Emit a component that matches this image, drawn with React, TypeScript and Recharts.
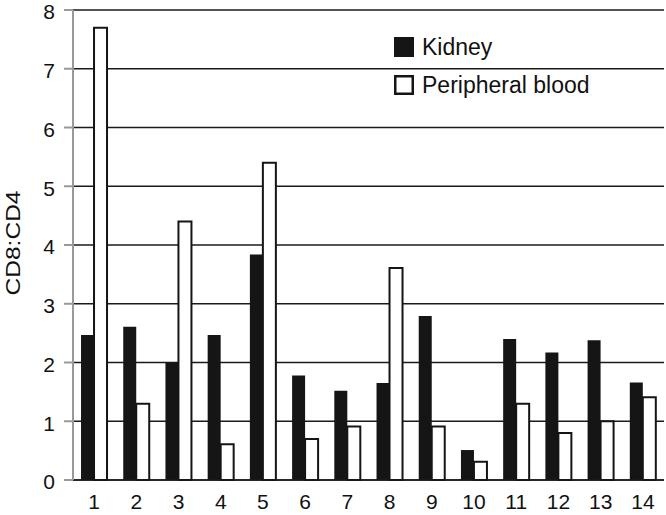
import React from 'react';
import { BarChart, Bar, XAxis, YAxis, CartesianGrid, Legend } from 'recharts';

const categories = ['1', '2', '3', '4', '5', '6', '7', '8', '9', '10', '11', '12', '13', '14'];
const kidney = [2.47, 2.61, 2.0, 2.47, 3.84, 1.78, 1.52, 1.65, 2.79, 0.51, 2.4, 2.17, 2.38, 1.66];
const peripheralBlood = [7.7, 1.3, 4.4, 0.61, 5.4, 0.7, 0.91, 3.61, 0.91, 0.31, 1.3, 0.8, 1.0, 1.41];
const yTicks = [0, 1, 2, 3, 4, 5, 6, 7, 8];

const data = categories.map((c, i) => ({ name: c, kidney: kidney[i], blood: peripheralBlood[i] }));

const FONT = '"Liberation Sans", Arial, Helvetica, sans-serif';

const LegendContent = (props: any) => {
  const items = props.payload || [];
  return (
    <div style={{ fontFamily: FONT, fontSize: 23, color: '#111' }}>
      {items.map((it: any, i: number) => {
        const filled = it.dataKey === 'kidney';
        return (
          <div key={i} style={{ display: 'flex', alignItems: 'center', height: 38, whiteSpace: 'nowrap' }}>
            <svg width={20} height={20} style={{ marginRight: 8, flex: 'none' }}>
              <rect
                x={filled ? 0 : 1.25}
                y={filled ? 0 : 1.25}
                width={filled ? 20 : 17.5}
                height={filled ? 20 : 17.5}
                fill={filled ? '#151515' : '#fff'}
                stroke={filled ? 'none' : '#151515'}
                strokeWidth={2.5}
              />
            </svg>
            <span>{it.value}</span>
          </div>
        );
      })}
    </div>
  );
};

const YLabel = (props: any) => {
  const vb = props.viewBox || {};
  const cx = 12;
  const cy = vb.y + vb.height / 2 - 2;
  return (
    <text
      x={cx}
      y={cy}
      transform={`rotate(-90, ${cx}, ${cy})`}
      textAnchor="middle"
      dominantBaseline="central"
      fontFamily={FONT}
      fontSize={21}
      textLength={105}
      lengthAdjust="spacingAndGlyphs"
      fill="#111"
    >
      CD8:CD4
    </text>
  );
};

export default function App() {
  return (
    <div style={{ width: 666, height: 515 }}>
      <style>{`body{margin:0}`}</style>
      <BarChart
        width={666}
        height={515}
        data={data}
        margin={{ top: 10, right: 2, bottom: 5, left: 0 }}
        barGap={0}
        barCategoryGap="19%"
      >
        <CartesianGrid vertical={false} stroke="#1a1a1a" strokeWidth={1.5} />
        <XAxis
          dataKey="name"
          tickLine={false}
          axisLine={{ stroke: '#1a1a1a', strokeWidth: 1.5 }}
          tick={{ fill: '#111', fontSize: 21, fontFamily: FONT }}
          tickMargin={8}
          height={30}
          interval={0}
        />
        <YAxis
          domain={[0, 8]}
          ticks={yTicks}
          width={73}
          tickSize={9}
          tickMargin={9}
          interval={0}
          axisLine={{ stroke: '#999', strokeWidth: 2 }}
          tickLine={{ stroke: '#999', strokeWidth: 2 }}
          tick={{ fill: '#111', fontSize: 21, fontFamily: FONT, dy: 2 }}
          label={<YLabel />}
        />
        <YAxis
          yAxisId="right"
          orientation="right"
          width={0}
          domain={[0, 8]}
          tick={false}
          tickLine={false}
          axisLine={{ stroke: '#1a1a1a', strokeWidth: 1.5 }}
        />
        <Legend
          layout="vertical"
          verticalAlign="middle"
          align="center"
          content={<LegendContent />}
          wrapperStyle={{ top: 28, left: 394, width: 240, height: 76 }}
        />
        <Bar dataKey="kidney" name="Kidney" fill="#151515" isAnimationActive={false} />
        <Bar dataKey="blood" name="Peripheral blood" fill="#ffffff" stroke="#151515" strokeWidth={2} isAnimationActive={false} />
      </BarChart>
    </div>
  );
}
